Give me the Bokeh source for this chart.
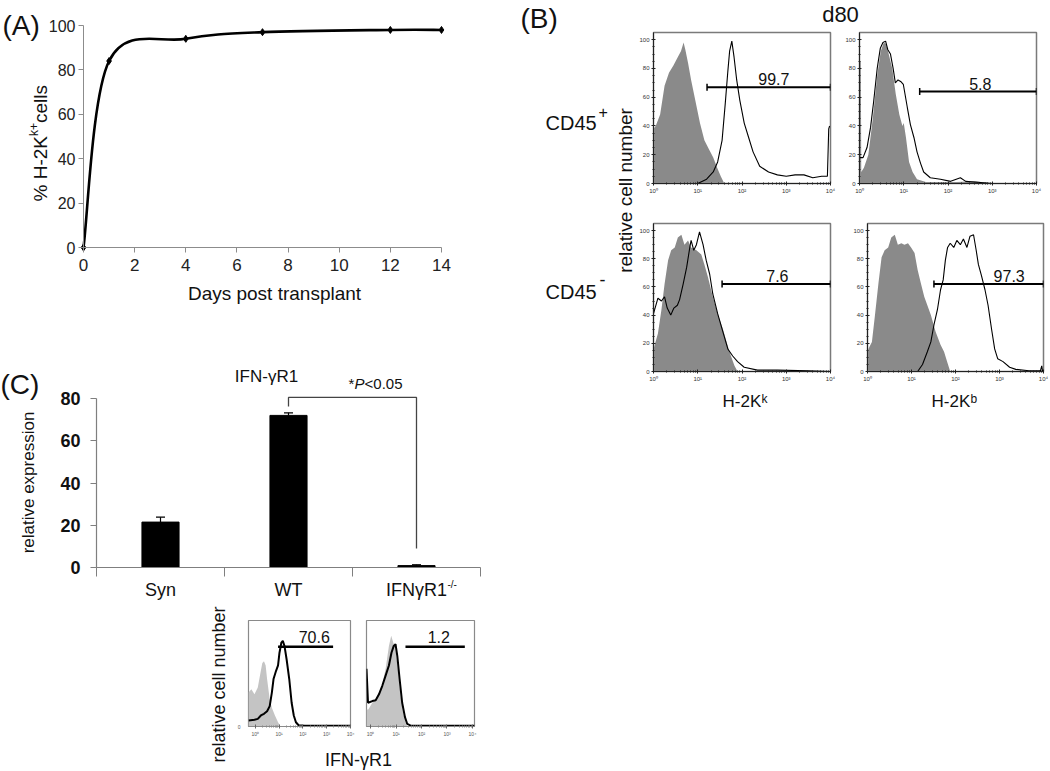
import numpy as np
from bokeh.plotting import figure
from bokeh.layouts import row, column
from bokeh.models import Range1d, FixedTicker, Label, ColumnDataSource, Whisker, TeeHead, Spacer
from bokeh.embed import file_html
from bokeh.resources import INLINE

FONT = "Liberation Sans"

# ---------------- DATA ----------------
# (A) chimerism time course
days = [0, 1, 4, 7, 12, 14]
pct_h2kk = [0, 84, 94, 97, 98, 98]

# (B) flow histograms, x = log10 fluorescence, y = % of max
tl_ctrl_x = [0, 0.05, 0.15, 0.25, 0.35, 0.45, 0.55, 0.62, 0.68, 0.72, 0.78, 0.85, 0.95, 1.05, 1.15, 1.25, 1.35, 1.45, 1.52, 1.6]
tl_ctrl_y = [38, 40, 48, 68, 77, 82, 88, 92, 98, 93, 84, 72, 57, 42, 30, 24, 18, 10, 5, 0]
tl_stain_x = [1.0, 1.2, 1.35, 1.45, 1.55, 1.62, 1.68, 1.72, 1.77, 1.82, 1.88, 1.95, 2.05, 2.15, 2.25, 2.4, 2.6, 2.8, 3.0, 3.2, 3.4, 3.6, 3.8, 3.93, 3.96, 3.98]
tl_stain_y = [0, 3, 8, 15, 30, 55, 78, 92, 99, 88, 72, 58, 42, 32, 22, 12, 8, 6, 5, 6, 6, 4, 5, 5, 38, 40]

tr_ctrl_x = [0, 0.03, 0.04, 0.1, 0.2, 0.3, 0.4, 0.48, 0.55, 0.6, 0.66, 0.74, 0.82, 0.9, 0.97, 1.0, 1.05, 1.12, 1.2, 1.3, 1.5, 1.8, 2.2, 2.6, 2.9, 3.0]
tr_ctrl_y = [85, 85, 8, 11, 20, 45, 75, 92, 98, 97, 90, 80, 62, 48, 40, 42, 32, 15, 8, 3, 1, 1, 1, 1.5, 0.5, 0]
tr_stain_x = [0.0, 0.08, 0.17, 0.25, 0.32, 0.4, 0.47, 0.53, 0.59, 0.64, 0.7, 0.76, 0.81, 0.87, 0.93, 0.99, 1.08, 1.15, 1.23, 1.3, 1.38, 1.45, 1.6, 1.83, 2.06, 2.28, 2.4, 2.8, 3.0]
tr_stain_y = [18, 18, 25, 39, 57, 80, 94, 98, 99, 93, 90, 80, 70, 72, 71, 69, 53, 41, 32, 22, 14, 8, 4, 3, 1.5, 4, 1.5, 0.5, 0]

bl_ctrl_x = [0, 0.1, 0.18, 0.25, 0.33, 0.4, 0.48, 0.55, 0.63, 0.7, 0.78, 0.85, 0.97, 1.08, 1.15, 1.23, 1.34, 1.45, 1.57, 1.68, 1.75, 1.83, 1.9]
bl_ctrl_y = [16, 27, 44, 62, 79, 86, 88, 95, 97, 90, 93, 88, 86, 83, 76, 67, 53, 41, 30, 18, 11, 4, 0]
bl_stain_x = [0, 0.1, 0.18, 0.25, 0.31, 0.39, 0.46, 0.54, 0.59, 0.67, 0.75, 0.82, 0.85, 0.91, 0.97, 1.04, 1.12, 1.19, 1.27, 1.34, 1.45, 1.57, 1.68, 1.79, 1.9, 2.05, 2.35, 2.8, 3.5, 4.0]
bl_stain_y = [41, 52, 50, 53, 45, 40, 45, 47, 51, 62, 74, 88, 93, 86, 90, 99, 90, 79, 69, 55, 41, 28, 16, 11, 7, 3, 1, 1, 0.5, 0]

br_ctrl_x = [0.0, 0.02, 0.1, 0.17, 0.25, 0.32, 0.39, 0.47, 0.54, 0.62, 0.69, 0.77, 0.84, 0.92, 0.99, 1.07, 1.14, 1.21, 1.29, 1.36, 1.44, 1.55, 1.66, 1.74, 1.81, 1.88]
br_ctrl_y = [14, 16, 21, 40, 63, 81, 86, 88, 95, 97, 90, 91, 90, 91, 88, 84, 72, 63, 53, 47, 40, 28, 19, 14, 7, 0]
br_stain_x = [1.14, 1.25, 1.36, 1.44, 1.51, 1.59, 1.66, 1.72, 1.77, 1.82, 1.88, 1.96, 2.03, 2.11, 2.18, 2.26, 2.33, 2.41, 2.47, 2.52, 2.59, 2.67, 2.74, 2.82, 2.89, 2.96, 3.08, 3.23, 3.37, 3.67, 3.93, 3.96, 3.98]
br_stain_y = [0, 5, 14, 21, 33, 44, 58, 65, 79, 88, 91, 88, 93, 90, 94, 88, 96, 97, 86, 76, 68, 58, 47, 30, 16, 9, 7, 3, 1.5, 0.5, 0.5, 4, 0]

b_gate_start = [1.21, 1.36, 1.55, 1.51]
b_gate_end = [4.0, 4.0, 4.0, 4.0]
b_gate_y = [67, 64, 62, 62]
b_gate_pct = ["99.7", "5.8", "7.6", "97.3"]

# (C) qPCR bar chart
groups = ["Syn", "WT", "IFNγR1"]
rel_expr = [21.5, 72.0, 0.9]
rel_err = [2.3, 1.2, 0.4]

# (C) small IFN-gR1 histograms
wt_ctrl_x = [-0.28, -0.16, -0.03, 0.11, 0.24, 0.3, 0.37, 0.44, 0.5, 0.61, 0.7, 0.83, 0.96, 1.06]
wt_ctrl_y = [40, 44, 38, 46, 66, 75, 77, 72, 56, 32, 22, 13, 5, 0]
wt_stain_x = [-0.28, -0.03, 0.11, 0.24, 0.37, 0.5, 0.61, 0.7, 0.77, 0.88, 0.96, 1.02, 1.1, 1.16, 1.23, 1.32, 1.43, 1.53, 1.62, 1.71, 1.82, 2.08, 4.0]
wt_stain_y = [7, 8, 9, 13, 15, 18, 24, 40, 56, 66, 72, 87, 99, 101, 95, 79, 56, 28, 13, 5, 1.5, 1, 1]
ko_ctrl_x = [-0.16, -0.09, 0.07, 0.2, 0.33, 0.46, 0.59, 0.72, 0.81, 0.89, 0.98, 1.07, 1.18, 1.27, 1.37, 1.44]
ko_ctrl_y = [20, 20, 28, 32, 40, 50, 68, 95, 107, 99, 91, 68, 36, 17, 5, 0]
ko_stain_x = [-0.16, -0.1, 0.07, 0.2, 0.33, 0.46, 0.59, 0.72, 0.82, 0.91, 0.98, 1.05, 1.14, 1.24, 1.35, 1.44, 1.57, 4.08]
ko_stain_y = [68, 28, 30, 31, 38, 48, 60, 72, 87, 95, 97, 83, 56, 28, 11, 3, 1, 1]
c_gate_start = [0.96, 1.37]
c_gate_end = [3.27, 3.70]
c_gate_y = [94, 94]
c_gate_pct = ["70.6", "1.2"]

DECADE_LABELS = {0: "10\u2070", 1: "10\u00b9", 2: "10\u00b2", 3: "10\u00b3", 4: "10\u2074"}
LOG_MINOR = [d + float(np.log10(k)) for d in range(4) for k in range(2, 10)]
ROT = np.pi / 2


# ---------------- HELPERS ----------------
def make_fig(w, h, xr, yr, bl, br, bt, bb):
    p = figure(width=w, height=h, x_range=Range1d(*xr), y_range=Range1d(*yr),
               output_backend="svg", toolbar_location=None, title=None,
               min_border_left=bl, min_border_right=br, min_border_top=bt, min_border_bottom=bb)
    p.xgrid.grid_line_color = None
    p.ygrid.grid_line_color = None
    p.border_fill_color = "white"
    p.background_fill_color = "white"
    return p


def text_canvas(w, h):
    # plain text strip: one data unit = one pixel, y measured downward
    p = figure(width=w, height=h, x_range=Range1d(0, w), y_range=Range1d(h, 0),
               output_backend="svg", toolbar_location=None, title=None,
               x_axis_location=None, y_axis_location=None, min_border=0)
    p.outline_line_color = None
    p.xgrid.grid_line_color = None
    p.ygrid.grid_line_color = None
    return p


def lab(p, x, y, text, size, align="left", angle=0.0, style="normal", color="#111111"):
    p.add_layout(Label(x=x, y=y, text=text, text_font=FONT, text_font_size=f"{size}px",
                       text_align=align, text_baseline="middle", angle=angle,
                       text_font_style=style, text_color=color))


def flow_panel(w, h, bl, br, bt, bb, cx, cy, sx, sy, gi, label_x):
    p = make_fig(w, h, (0, 4), (0, 105), bl, br, bt, bb)
    p.outline_line_color = "#7a7a7a"
    p.outline_line_width = 1.5
    p.patch([cx[0]] + list(cx) + [cx[-1]], [0] + list(cy) + [0], fill_color="#8a8a8a", line_color=None)
    p.line(sx, sy, line_color="black", line_width=1.1)
    src = ColumnDataSource(dict(y=[b_gate_y[gi]], x0=[b_gate_start[gi]], x1=[b_gate_end[gi]]))
    p.add_layout(Whisker(source=src, base="y", lower="x0", upper="x1", dimension="width",
                         line_color="black", line_width=2,
                         lower_head=TeeHead(size=7, line_color="black", line_width=1.5),
                         upper_head=TeeHead(size=7, line_color="black", line_width=1.5)))
    lab(p, label_x, b_gate_y[gi] + 5.5, b_gate_pct[gi], 16, align="center")
    xa, ya = p.xaxis[0], p.yaxis[0]
    xa.ticker = FixedTicker(ticks=[0, 1, 2, 3, 4], minor_ticks=LOG_MINOR)
    xa.major_label_overrides = DECADE_LABELS
    ya.ticker = FixedTicker(ticks=[0, 20, 40, 60, 80, 100], minor_ticks=list(range(0, 101, 5)))
    for ax in (xa, ya):
        ax.axis_line_color = "#222222"
        ax.major_tick_line_color = "#222222"
        ax.minor_tick_line_color = "#222222"
        ax.major_tick_in = 2
        ax.major_tick_out = 2
        ax.minor_tick_in = 1
        ax.minor_tick_out = 1
        ax.major_label_text_font = FONT
        ax.major_label_text_font_size = "6px"
        ax.major_label_standoff = 2
        ax.major_label_text_color = "#333333"
    return p


def small_panel(w, h, bl, br, xr, cx, cy, sx, sy, gi, label_x, show_y):
    p = make_fig(w, h, xr, (0, 125), bl, br, 15, 23)
    p.outline_line_color = "#8a8a8a"
    p.outline_line_width = 1.2
    p.patch([cx[0]] + list(cx) + [cx[-1]], [0] + list(cy) + [0], fill_color="#c4c4c4", line_color=None)
    p.line(sx, sy, line_color="black", line_width=2)
    p.segment(x0=[c_gate_start[gi]], y0=[c_gate_y[gi]], x1=[c_gate_end[gi]], y1=[c_gate_y[gi]],
              line_color="black", line_width=2.4)
    lab(p, label_x, c_gate_y[gi] + 12, c_gate_pct[gi], 16, align="center")
    xa, ya = p.xaxis[0], p.yaxis[0]
    xa.ticker = FixedTicker(ticks=[0, 1, 2, 3, 4], minor_ticks=LOG_MINOR)
    xa.major_label_overrides = DECADE_LABELS
    xa.axis_line_color = "#8a8a8a"
    xa.major_tick_line_color = "#666666"
    xa.minor_tick_line_color = "#888888"
    xa.major_tick_in = 2
    xa.major_tick_out = 2
    xa.minor_tick_in = 1
    xa.minor_tick_out = 1
    xa.major_label_text_font = FONT
    xa.major_label_text_font_size = "5px"
    xa.major_label_standoff = 2
    xa.major_label_text_color = "#555555"
    if show_y:
        ya.ticker = FixedTicker(ticks=[0])
        ya.axis_line_color = None
        ya.major_tick_line_color = None
        ya.major_label_text_font = FONT
        ya.major_label_text_font_size = "5px"
        ya.major_label_standoff = 2
        ya.major_label_text_color = "#555555"
    else:
        ya.visible = False
    return p


# ---------------- (A) ----------------
# frame fills the canvas; the axes sit at x=0 / y=0 and stop at the data bounds
pA = make_fig(515, 330, (-83 / 25.571, 432 / 25.571), (-83 / 2.22, 247 / 2.22), 0, 0, 0, 0)
pA.outline_line_color = None
xa_ = np.array(days, dtype=float)
ya_ = np.array(pct_h2kk, dtype=float)
n = len(xa_)
qx = np.concatenate([[xa_[0]], xa_, [xa_[-1]]])
qy = np.concatenate([[ya_[0]], ya_, [ya_[-1]]])
pA.bezier(x0=qx[1:n], y0=qy[1:n], x1=qx[2:n + 1], y1=qy[2:n + 1],
          cx0=qx[1:n] + (qx[2:n + 1] - qx[0:n - 1]) / 6.0,
          cy0=qy[1:n] + (qy[2:n + 1] - qy[0:n - 1]) / 6.0,
          cx1=qx[2:n + 1] - (qx[3:n + 2] - qx[1:n]) / 6.0,
          cy1=qy[2:n + 1] - (qy[3:n + 2] - qy[1:n]) / 6.0,
          line_color="black", line_width=2.6)
pA.scatter(days, pct_h2kk, marker="diamond", size=7, color="black")
pA.xaxis.fixed_location = 0
pA.yaxis.fixed_location = 0
pA.xaxis.bounds = (0, 14)
pA.yaxis.bounds = (0, 100)
pA.xaxis.ticker = FixedTicker(ticks=list(range(0, 15, 2)))
pA.yaxis.ticker = FixedTicker(ticks=[0, 20, 40, 60, 80, 100])
for ax in (pA.xaxis[0], pA.yaxis[0]):
    ax.axis_line_color = "#8c8c8c"
    ax.major_tick_line_color = "#8c8c8c"
    ax.minor_tick_line_color = None
    ax.major_tick_out = 5
    ax.major_tick_in = 0
    ax.major_label_text_font = FONT
    ax.major_label_text_color = "#222222"
pA.xaxis.major_label_text_font_size = "17px"
pA.yaxis.major_label_text_font_size = "16px"
pA.xaxis.major_label_standoff = 6
pA.yaxis.major_label_standoff = 3
lab(pA, -3.17, 100, "(A)", 28)
lab(pA, 7.47, -20.7, "Days post transplant", 19, align="center")
lab(pA, -1.68, 35.47, "% H-2K", 19, align="center", angle=ROT)
lab(pA, -1.93, 53.15, "k+", 12, align="center", angle=ROT)
lab(pA, -1.68, 64.64, "cells", 19, align="center", angle=ROT)

# ---------------- (C) bar chart ----------------
pC = make_fig(515, 275, (-0.75, 419 / 128), (-38 / 2.1125, 237 / 2.1125), 0, 0, 0, 0)
pC.outline_line_color = None
xc = np.arange(len(groups)) + 0.5
pC.vbar(x=xc, top=rel_expr, width=0.29, fill_color="black", line_color="black")
esrc = ColumnDataSource(dict(x=xc, lower=rel_expr, upper=np.array(rel_expr) + np.array(rel_err)))
pC.add_layout(Whisker(source=esrc, base="x", lower="lower", upper="upper", dimension="height",
                      line_color="black", line_width=1.2, lower_head=None,
                      upper_head=TeeHead(size=9, line_color="black", line_width=1.2)))
pC.line(x=[xc[1], xc[1], xc[2], xc[2]], y=[76.2, 80.5, 80.5, 9], line_color="#444444", line_width=1.3)
pC.xaxis.fixed_location = 0
pC.yaxis.fixed_location = 0
pC.xaxis.bounds = (0, len(groups))
pC.yaxis.bounds = (0, 80)
pC.xaxis.ticker = FixedTicker(ticks=list(xc), minor_ticks=list(range(len(groups) + 1)))
pC.xaxis.major_label_overrides = {float(x): g for x, g in zip(xc, groups)}
pC.yaxis.ticker = FixedTicker(ticks=[0, 20, 40, 60, 80])
for ax in (pC.xaxis[0], pC.yaxis[0]):
    ax.axis_line_color = "#7f7f7f"
    ax.axis_line_width = 1.2
    ax.major_tick_line_color = "#7f7f7f"
    ax.minor_tick_line_color = "#7f7f7f"
    ax.major_label_text_font = FONT
    ax.major_label_text_color = "#111111"
pC.xaxis.major_tick_out = 0
pC.xaxis.major_tick_in = 0
pC.xaxis.minor_tick_out = 9
pC.xaxis.minor_tick_in = 0
pC.xaxis.major_label_text_font_size = "18px"
pC.xaxis.major_label_standoff = 3
pC.yaxis.major_tick_out = 6
pC.yaxis.major_tick_in = 0
pC.yaxis.minor_tick_line_color = None
pC.yaxis.major_label_text_font_size = "18px"
pC.yaxis.major_label_text_font_style = "bold"
pC.yaxis.major_label_standoff = 10
lab(pC, -0.75, 86.63, "(C)", 28)
lab(pC, -0.535, 40.24, "relative expression", 17, align="center", angle=ROT)
lab(pC, 1.328, 90.41, "IFN-\u03b3R1", 17, align="center")
lab(pC, 1.969, 87.1, "*", 15)
lab(pC, 2.016, 87.1, "P", 15, style="italic")
lab(pC, 2.094, 87.1, "<0.05", 15)
lab(pC, 2.742, -8.05, "-/-", 10)

# ---------------- (C) small histograms ----------------
sp = Spacer(width=200, height=166)
lab_small = text_canvas(34, 166)
lab(lab_small, 18, 79, "relative cell number", 18, align="center", angle=ROT)
hL = small_panel(124, 144, 8, 8, (-0.28, 4.0), wt_ctrl_x, wt_ctrl_y, wt_stain_x, wt_stain_y, 0, 2.48, True)
hR = small_panel(122, 144, 8, 6, (-0.16, 4.08), ko_ctrl_x, ko_ctrl_y, ko_stain_x, ko_stain_y, 1, 2.68, False)
ifn_lab = text_canvas(246, 22)
lab(ifn_lab, 124, 10.5, "IFN-\u03b3R1", 18, align="center")

# ---------------- (B) ----------------
textB = text_canvas(121, 430)
lab(textB, 5, 17.5, "(B)", 28)
lab(textB, 30, 122.5, "CD45", 20)
lab(textB, 83, 111, "+", 16)
lab(textB, 30, 291, "CD45", 20)
lab(textB, 84, 279, "-", 18)
lab(textB, 110, 190, "relative cell number", 19, align="center", angle=ROT)

d80 = text_canvas(412, 30)
lab(d80, 204, 14, "d80", 22, align="center")

TL = flow_panel(204, 170, 16, 10, 2, 17, tl_ctrl_x, tl_ctrl_y, tl_stain_x, tl_stain_y, 0, 2.72)
TR = flow_panel(208, 170, 19, 12, 2, 17, tr_ctrl_x, tr_ctrl_y, tr_stain_x, tr_stain_y, 1, 2.73)
BL = flow_panel(214, 190, 16, 20, 23, 18, bl_ctrl_x, bl_ctrl_y, bl_stain_x, bl_stain_y, 2, 2.8)
BR = flow_panel(198, 190, 14, 5, 20, 19, br_ctrl_x, br_ctrl_y, br_stain_x, br_stain_y, 3, 3.22)

h2k = text_canvas(412, 40)
lab(h2k, 86, 11, "H-2K", 17)
lab(h2k, 125, 8, "k", 12)
lab(h2k, 295, 11, "H-2K", 17)
lab(h2k, 334, 8, "b", 12)

left_col = column(pA, pC, row(sp, lab_small, column(row(hL, hR), ifn_lab)))
right_col = row(textB, column(d80, row(TL, TR), row(BL, BR), h2k))
layout = row(left_col, right_col)

open("out.html", "w").write(file_html(layout, INLINE, title="chart"))
